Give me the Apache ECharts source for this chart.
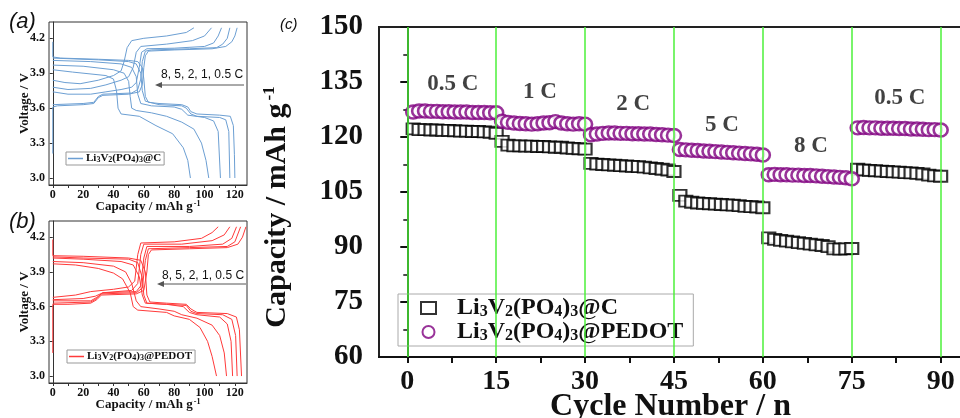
<!DOCTYPE html>
<html><head><meta charset="utf-8">
<script src="https://cdn.jsdelivr.net/npm/echarts@6/dist/echarts.min.js"></script>
<style>html,body{margin:0;padding:0;background:#fff}#c{width:960px;height:418px}</style>
</head><body><div id="c"></div>
<script>
// ---------- Panel (c): rate capability ----------
const cycleTicks = [0, 15, 30, 45, 60, 75, 90];
const cycleMinorTicks = [0, 7.5, 15, 22.5, 30, 37.5, 45, 52.5, 60, 67.5, 75, 82.5, 90];
const rateLabels = ['0.5 C', '1 C', '2 C', '5 C', '8 C', '0.5 C'];
const rateLabelX = [7.7, 22.4, 38.1, 53.1, 68.1, 83.1];
const rateLabelY = [134.5, 132.3, 129.0, 123.3, 117.5, 130.6];
// Li3V2(PO4)3@C, cycles 1..90
const capC = [
  122.2,122.0,122.0,121.9,121.9,121.8,121.8,121.7,121.6,121.6,121.5,121.5,121.4,121.3,121.0,
  118.8,117.8,117.6,117.6,117.5,117.5,117.4,117.4,117.3,117.2,117.2,117.0,116.9,116.8,116.7,
  112.8,112.6,112.5,112.4,112.3,112.2,112.1,112.0,111.9,111.8,111.6,111.4,111.2,111.0,110.6,
  104.1,102.5,102.2,102.0,101.9,101.8,101.7,101.6,101.5,101.4,101.3,101.1,101.0,100.9,100.7,
  92.5,92.1,91.8,91.6,91.4,91.2,91.0,90.8,90.6,90.4,90.1,89.5,89.4,89.5,89.6,
  111.2,111.0,110.9,110.8,110.7,110.6,110.5,110.4,110.3,110.2,110.1,109.9,109.6,109.4,109.3
];
// Li3V2(PO4)3@PEDOT, cycles 1..90
const capPEDOT = [
  126.8,127.1,127.1,127.0,127.0,126.9,126.9,126.8,126.8,126.8,126.7,126.7,126.7,126.6,126.6,
  124.3,124.0,123.8,123.7,123.6,123.5,123.6,123.8,123.9,124.2,123.8,123.6,123.5,123.6,123.5,
  120.6,120.8,121.0,121.1,121.1,121.0,121.0,120.9,120.9,120.8,120.8,120.7,120.6,120.5,120.4,
  116.6,116.5,116.4,116.3,116.2,116.1,116.0,115.9,115.8,115.7,115.6,115.5,115.4,115.3,115.1,
  109.7,109.8,109.7,109.7,109.6,109.6,109.5,109.5,109.4,109.3,109.2,109.1,109.0,108.9,108.6,
  122.5,122.6,122.5,122.5,122.4,122.4,122.4,122.3,122.3,122.2,122.2,122.1,122.0,122.0,121.9
];

// ---------- Panels (a),(b): charge/discharge curves [capacity, voltage] ----------
const voltTicks = [3.0, 3.3, 3.6, 3.9, 4.2];
const capTicks = [0, 20, 40, 60, 80, 100, 120];
const capMinorTicks = [0, 10, 20, 30, 40, 50, 60, 70, 80, 90, 100, 110, 120];
const rates = ['0.5 C', '1 C', '2 C', '5 C', '8 C'];

const aCharge = [
  [[0,3.21],[0,3.61],[3,3.62],[20,3.63],[27,3.64],[30,3.69],[33,3.71],[50,3.72],[57,3.74],[59,3.80],[60,3.95],[61,4.05],[63,4.09],[80,4.10],[105,4.11],[114,4.13],[118,4.17],[120,4.22],[121.5,4.29]],
  [[0,3.63],[20,3.64],[27,3.65],[30,3.70],[33,3.72],[52,3.73],[56,3.76],[58,3.85],[59,4.00],[61,4.09],[65,4.10],[90,4.11],[108,4.12],[112,4.15],[115,4.20],[116.7,4.29]],
  [[0,3.74],[10,3.72],[25,3.72],[35,3.74],[45,3.76],[52,3.78],[55,3.82],[57,3.95],[58.5,4.08],[62,4.11],[80,4.115],[100,4.13],[106,4.16],[109,4.22],[111.2,4.29]],
  [[0,3.78],[10,3.76],[25,3.77],[35,3.80],[45,3.84],[50,3.87],[53,3.95],[55,4.08],[58,4.13],[75,4.15],[92,4.18],[100,4.22],[104.6,4.29]],
  [[0,3.84],[8,3.82],[18,3.81],[30,3.84],[40,3.88],[45,3.92],[47,4.00],[49,4.12],[52,4.18],[60,4.20],[75,4.22],[88,4.25],[93,4.29]]
];
const aDischarge = [
  [[0,4.17],[0,4.04],[5,4.03],[30,4.02],[50,4.01],[56,4.00],[59,3.95],[60,3.85],[61,3.70],[63,3.65],[70,3.64],[85,3.63],[89,3.61],[91,3.57],[95,3.55],[110,3.54],[117,3.53],[119,3.45],[119.7,3.20],[120,3.00]],
  [[0,4.03],[30,4.015],[50,4.00],[55,3.98],[58,3.90],[59,3.75],[61,3.66],[70,3.63],[85,3.62],[88,3.60],[91,3.55],[95,3.53],[110,3.52],[114,3.50],[116,3.40],[116.7,3.00]],
  [[0,4.01],[25,4.00],[45,3.98],[52,3.95],[55,3.87],[56,3.72],[58,3.64],[65,3.62],[80,3.61],[85,3.59],[89,3.54],[100,3.52],[106,3.49],[109,3.40],[110.5,3.00]],
  [[0,3.97],[20,3.96],[40,3.93],[47,3.90],[50,3.83],[51,3.70],[52,3.60],[55,3.58],[65,3.56],[75,3.53],[85,3.48],[93,3.42],[98,3.30],[101,3.15],[102.8,3.00]],
  [[0,3.93],[13,3.91],[35,3.88],[40,3.85],[42,3.75],[43,3.60],[45,3.55],[57,3.53],[68,3.45],[79,3.38],[86,3.26],[89,3.15],[90.7,3.00]]
];
const bCharge = [
  [[0,3.20],[0,3.62],[10,3.62],[25,3.63],[29,3.66],[32,3.70],[55,3.71],[60,3.74],[62,3.90],[63,4.05],[65,4.09],[90,4.10],[115,4.11],[122,4.14],[125,4.20],[127.3,4.29]],
  [[0,3.63],[25,3.64],[29,3.67],[32,3.71],[55,3.72],[59,3.76],[61,4.00],[63,4.10],[90,4.11],[115,4.12],[120,4.16],[123.8,4.29]],
  [[0,3.65],[25,3.65],[29,3.68],[33,3.72],[55,3.73],[58,3.78],[60,4.02],[62,4.12],[90,4.12],[112,4.14],[118,4.19],[121.1,4.29]],
  [[0,3.66],[20,3.67],[28,3.69],[33,3.72],[52,3.74],[56,3.80],[58,4.05],[60,4.14],[85,4.14],[105,4.17],[113,4.22],[116.7,4.29]],
  [[0,3.68],[15,3.70],[25,3.73],[40,3.75],[50,3.77],[54,3.82],[56,4.05],[58,4.15],[80,4.16],[98,4.19],[105,4.24],[109,4.29]]
];
const bDischarge = [
  [[0,4.18],[0,4.04],[20,4.035],[50,4.02],[58,4.00],[61,3.90],[62,3.70],[64,3.64],[75,3.63],[88,3.62],[91,3.58],[95,3.55],[115,3.54],[121,3.51],[123,3.40],[124.4,3.00]],
  [[0,4.03],[20,4.02],[50,4.01],[56,3.98],[59,3.85],[60,3.70],[62,3.63],[75,3.62],[88,3.61],[91,3.56],[95,3.54],[112,3.53],[118,3.49],[120.5,3.35],[121.5,3.00]],
  [[0,4.02],[20,4.01],[45,3.99],[53,3.96],[57,3.86],[59,3.70],[61,3.63],[75,3.62],[86,3.60],[90,3.55],[95,3.53],[110,3.51],[115,3.45],[117.5,3.30],[118.5,3.00]],
  [[0,3.99],[20,3.98],[40,3.95],[48,3.90],[52,3.80],[55,3.65],[58,3.60],[70,3.58],[80,3.56],[85,3.53],[95,3.50],[105,3.44],[110,3.35],[113,3.20],[114.5,3.00]],
  [[0,3.97],[15,3.96],[30,3.93],[40,3.89],[46,3.84],[51,3.72],[53,3.60],[56,3.57],[75,3.55],[80,3.52],[90,3.49],[97,3.42],[102,3.30],[105,3.17],[107.9,3.00]]
];

const SERIF = '"Liberation Serif","Times New Roman",serif';
const SANS = '"Liberation Sans",Arial,sans-serif';
const BLUE = '#6c9fd3';
const RED = '#ff3a3a';
const PURPLE = '#800080';
const NAME_A = 'LVP@C (a)';
const NAME_B = 'LVP@PEDOT (b)';
const NAME_C1 = 'Li3V2(PO4)3@C';
const NAME_C2 = 'Li3V2(PO4)3@PEDOT';
const subRich = (big, small) => ({
  b: {fontFamily: SERIF, fontWeight: 'bold', fontSize: big, color: '#111', verticalAlign: 'bottom', lineHeight: big},
  s: {fontFamily: SERIF, fontWeight: 'bold', fontSize: small, color: '#111', verticalAlign: 'bottom', lineHeight: big, padding: [0,0,0,0]}
});
const fmtC = '{b|Li}{s|3}{b|V}{s|2}{b|(PO}{s|4}{b|)}{s|3}{b|@C}';
const fmtP = '{b|Li}{s|3}{b|V}{s|2}{b|(PO}{s|4}{b|)}{s|3}{b|@PEDOT}';

function smallXAxis(gi) {
  return {
    gridIndex: gi, type: 'value', min: -2.5, max: 128,
    axisLine: {show: true, lineStyle: {color: '#333', width: 1}},
    axisTick: {show: true, customValues: capMinorTicks, length: 3, inside: false, lineStyle: {color: '#333'}},
    axisLabel: {customValues: capTicks, margin: 4, fontFamily: SERIF, fontWeight: 'bold', fontSize: 12, color: '#111'},
    splitLine: {show: false},
    name: 'Capacity / mAh g{sup|-1}', nameLocation: 'middle', nameGap: 15, nameMoveOverlap: false,
    nameTextStyle: {fontFamily: SERIF, fontWeight: 'bold', fontSize: 13, color: '#111',
      rich: {sup: {fontFamily: SERIF, fontWeight: 'bold', fontSize: 8, color: '#111', verticalAlign: 'top', padding: [0,0,6,1]}}}
  };
}
function smallYAxis(gi) {
  return {
    gridIndex: gi, type: 'value', min: 2.94, max: 4.34,
    axisLine: {show: true, lineStyle: {color: '#333', width: 1}},
    axisTick: {show: true, customValues: voltTicks, length: 3, lineStyle: {color: '#333'}},
    axisLabel: {customValues: voltTicks, margin: 4, fontFamily: SERIF, fontWeight: 'bold', fontSize: 12, color: '#111',
      formatter: v => v.toFixed(1)},
    splitLine: {show: false},
    name: 'Voltage / V', nameLocation: 'middle', nameGap: 18, nameMoveOverlap: false,
    nameTextStyle: {fontFamily: SERIF, fontWeight: 'bold', fontSize: 13, color: '#111'}
  };
}
function curveSeries(list, name, color, xi) {
  return list.map(d => ({
    type: 'line', name: name, xAxisIndex: xi, yAxisIndex: xi, data: d,
    showSymbol: false, symbol: 'none', smooth: false, animation: false,
    lineStyle: {color: color, width: 1}, itemStyle: {color: color}
  }));
}

const series = [];
series.push(...curveSeries(aCharge, NAME_A, BLUE, 0));
series.push(...curveSeries(aDischarge, NAME_A, BLUE, 0));
series.push(...curveSeries(bCharge, NAME_B, RED, 1));
series.push(...curveSeries(bDischarge, NAME_B, RED, 1));

// rate labels + green guide lines (panel c)
series.push({
  type: 'scatter', name: 'rates', xAxisIndex: 2, yAxisIndex: 2, z: 1, silent: true, animation: false,
  symbolSize: 1, itemStyle: {color: 'rgba(0,0,0,0)'},
  data: rateLabelX.map((x, i) => ({value: [x, rateLabelY[i]], label: {formatter: rateLabels[i]}})),
  label: {show: true, position: 'inside', fontFamily: SERIF, fontWeight: 'bold', fontSize: 23, color: '#111'},
  markLine: {silent: true, symbol: ['none', 'none'], animation: false, label: {show: false},
    lineStyle: {color: '#4cf03a', width: 1.5, type: 'solid', opacity: 1},
    emphasis: {disabled: true},
    data: cycleTicks.map(v => ({xAxis: v}))}
});
series.push({
  type: 'scatter', name: NAME_C1, xAxisIndex: 2, yAxisIndex: 2, z: 3, animation: false,
  symbol: 'rect', symbolSize: [13, 11],
  itemStyle: {color: '#fff', borderColor: '#000', borderWidth: 2},
  data: capC.map((v, i) => [i + 1, v])
});
series.push({
  type: 'scatter', name: NAME_C2, xAxisIndex: 2, yAxisIndex: 2, z: 4, animation: false,
  symbol: 'circle', symbolSize: [14, 13],
  itemStyle: {color: '#fff', borderColor: PURPLE, borderWidth: 2.5},
  data: capPEDOT.map((v, i) => [i + 1, v])
});

const arrow = (y, x1, x2) => ([
  {type: 'line', shape: {x1: x1, y1: y, x2: x2 + 5, y2: y}, style: {stroke: '#555', lineWidth: 1}},
  {type: 'polygon', shape: {points: [[x2, y], [x2 + 7, y - 3], [x2 + 7, y + 3]]}, style: {fill: '#555'}}
]);

const option = {
  backgroundColor: '#fff',
  animation: false,
  grid: [
    {left: 49, top: 22, width: 198, height: 163, show: true, borderColor: '#333', borderWidth: 1, backgroundColor: 'transparent', containLabel: false, outerBoundsMode: 'none'},
    {left: 49, top: 221, width: 198, height: 162, show: true, borderColor: '#333', borderWidth: 1, backgroundColor: 'transparent', containLabel: false, outerBoundsMode: 'none'},
    {left: 379, top: 27, width: 583, height: 330, show: true, borderColor: '#222', borderWidth: 2, backgroundColor: 'transparent', containLabel: false, outerBoundsMode: 'none'}
  ],
  xAxis: [
    smallXAxis(0), smallXAxis(1),
    {
      gridIndex: 2, type: 'value', min: -4.77, max: 93.6,
      axisLine: {show: true, lineStyle: {color: '#111', width: 2}},
      axisTick: {show: true, customValues: cycleMinorTicks, length: 6, lineStyle: {color: '#111', width: 2}},
      axisLabel: {customValues: cycleTicks, margin: 11, fontFamily: SERIF, fontWeight: 'bold', fontSize: 28, color: '#111'},
      splitLine: {show: false},
      name: 'Cycle Number / n', nameLocation: 'middle', nameGap: 34, nameMoveOverlap: false,
      nameTextStyle: {fontFamily: SERIF, fontWeight: 'bold', fontSize: 32, color: '#111'}
    }
  ],
  yAxis: [
    smallYAxis(0), smallYAxis(1),
    {
      gridIndex: 2, type: 'value', min: 60, max: 150, interval: 15,
      axisLine: {show: true, lineStyle: {color: '#111', width: 2}},
      axisTick: {show: true, length: 7, lineStyle: {color: '#111', width: 2}},
      minorTick: {show: true, splitNumber: 2, length: 4, lineStyle: {color: '#111', width: 1.5}},
      axisLabel: {margin: 16, fontFamily: SERIF, fontWeight: 'bold', fontSize: 29, color: '#111'},
      splitLine: {show: false},
      name: 'Capacity / mAh g{sup|-1}', nameLocation: 'middle', nameGap: 86, nameMoveOverlap: false,
      nameTextStyle: {fontFamily: SERIF, fontWeight: 'bold', fontSize: 30, color: '#111', padding: [0, 30, 0, 0],
        rich: {sup: {fontFamily: SERIF, fontWeight: 'bold', fontSize: 17, color: '#111', verticalAlign: 'top', padding: [0, 0, 15, 3]}}}
    }
  ],
  legend: [
    {
      data: [NAME_A], left: 66, top: 152, orient: 'horizontal', padding: [1, 3, 1, 2],
      borderColor: '#999', borderWidth: 1, itemWidth: 15, itemHeight: 1.5, icon: 'rect', selectedMode: false,
      formatter: () => fmtC, textStyle: {rich: subRich(11, 8), padding: [0, 0, 0, -2]}
    },
    {
      data: [NAME_B], left: 67, top: 350, orient: 'horizontal', padding: [1, 3, 1, 2],
      borderColor: '#999', borderWidth: 1, itemWidth: 15, itemHeight: 1.5, icon: 'rect', selectedMode: false,
      formatter: () => fmtP, textStyle: {rich: subRich(11, 8), padding: [0, 0, 0, -2]}
    },
    {
      data: [NAME_C1, NAME_C2], left: 398, top: 294, orient: 'vertical', padding: [2, 10, 2, 22],
      borderColor: '#aaa', borderWidth: 1, itemWidth: 15, itemHeight: 12, itemGap: 0, selectedMode: false,
      formatter: n => (n === NAME_C1 ? fmtC : fmtP),
      textStyle: {rich: subRich(24, 16), padding: [0, 0, 0, 16]}
    }
  ],
  graphic: [
    {type: 'text', left: 9, top: 11, style: {text: '(a)', font: 'italic 22px ' + SANS, fill: '#111'}},
    {type: 'text', left: 9, top: 211, style: {text: '(b)', font: 'italic 22px ' + SANS, fill: '#111'}},
    {type: 'text', left: 280, top: 17, style: {text: '(c)', font: 'italic 15px ' + SANS, fill: '#111'}},
    {type: 'text', left: 161, top: 69, style: {text: '8, 5, 2, 1, 0.5 C', font: '12px ' + SANS, fill: '#111'}},
    {type: 'text', left: 162, top: 270, style: {text: '8, 5, 2, 1, 0.5 C', font: '12px ' + SANS, fill: '#111'}},
    ...arrow(85, 244, 155),
    ...arrow(284, 246, 157)
  ],
  series: series
};
const chart = echarts.init(document.getElementById('c'), null, {renderer: 'canvas'});
chart.setOption(option);
</script></body></html>
